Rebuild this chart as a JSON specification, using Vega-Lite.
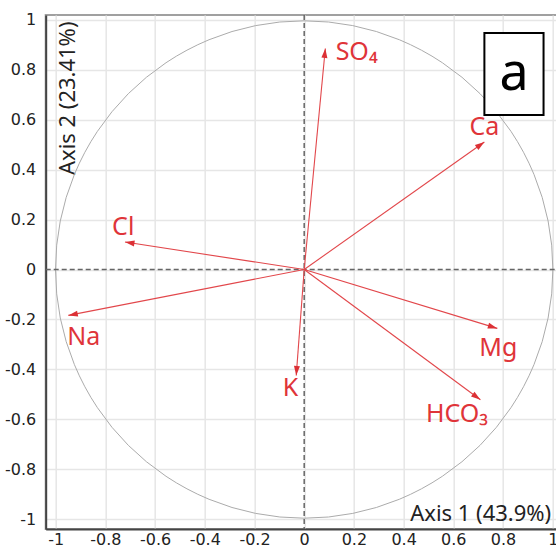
{
  "$schema": "https://vega.github.io/schema/vega-lite/v6.json",
  "width": 517,
  "height": 514,
  "autosize": {"type": "none"},
  "padding": {"left": 45.7, "top": 15, "right": 0, "bottom": 21},
  "background": "white",
  "config": {"view": {"stroke": "#a0a0a0", "strokeWidth": 2}, "font": "Noto Sans"},
  "datasets": {
    "vars": [
      {"name": "SO₄", "x": 0.085, "y": 0.886, "lx": 0.211, "ly": 0.839},
      {"name": "Ca", "x": 0.725, "y": 0.511, "lx": 0.725, "ly": 0.539},
      {"name": "Cl", "x": -0.721, "y": 0.110, "lx": -0.728, "ly": 0.137},
      {"name": "Na", "x": -0.949, "y": -0.184, "lx": -0.887, "ly": -0.301},
      {"name": "Mg", "x": 0.777, "y": -0.236, "lx": 0.781, "ly": -0.348},
      {"name": "HCO₃", "x": 0.709, "y": -0.522, "lx": 0.615, "ly": -0.612},
      {"name": "K", "x": -0.032, "y": -0.425, "lx": -0.055, "ly": -0.508}
    ],
    "origin": [{"x": 0, "y": 0}],
    "panel": [{"tag": "a", "x1": 0.725, "x2": 0.963, "y1": 0.948, "y2": 0.619, "tx": 0.844, "ty": 0.719}]
  },
  "layer": [
    {
      "data": {"name": "origin"},
      "mark": {"type": "point", "shape": "circle", "size": 247400, "filled": false, "stroke": "#ababab", "strokeWidth": 1, "opacity": 1},
      "encoding": {
        "x": {"field": "x", "type": "quantitative", "scale": {"domain": [-1.04, 1.04], "nice": false, "zero": false},
          "axis": {"title": "Axis 1 (43.9%)", "values": [-1, -0.8, -0.6, -0.4, -0.2, 0, 0.2, 0.4, 0.6, 0.8, 1],
            "grid": true, "gridColor": "#e6e6e6", "gridWidth": 1.5, "ticks": false,
            "domainColor": "#444444", "domainWidth": 2,
            "labelFont": "DejaVu Sans", "labelFontSize": 16, "labelColor": "#222222", "labelPadding": 3,
            "labelFlush": false, "labelOverlap": false,
            "labelExpr": "(datum.value < -0.001 ? '-' : '') + format(abs(datum.value), '~g')",
            "titleFont": "Noto Sans", "titleFontSize": 22, "titleFontWeight": "normal", "titleColor": "#222222",
            "titleX": 505, "titleY": -8, "titleAlign": "right", "titleBaseline": "alphabetic"}},
        "y": {"field": "y", "type": "quantitative", "scale": {"domain": [-1.04, 1.02], "nice": false, "zero": false},
          "axis": {"title": "Axis 2 (23.41%)", "values": [-1, -0.8, -0.6, -0.4, -0.2, 0, 0.2, 0.4, 0.6, 0.8, 1],
            "grid": true, "gridColor": "#e6e6e6", "gridWidth": 1.5, "ticks": false,
            "domainColor": "#444444", "domainWidth": 2,
            "labelFont": "DejaVu Sans", "labelFontSize": 16, "labelColor": "#222222", "labelPadding": 10,
            "labelFlush": false, "labelOverlap": false,
            "labelExpr": "(datum.value < -0.001 ? '-' : '') + format(abs(datum.value), '~g')",
            "titleFont": "Noto Sans", "titleFontSize": 22, "titleFontWeight": "normal", "titleColor": "#222222",
            "titleX": 29, "titleY": 6, "titleAngle": -90, "titleAlign": "right", "titleBaseline": "alphabetic"}}
      }
    },
    {
      "data": {"name": "origin"},
      "mark": {"type": "rule", "stroke": "#666666", "strokeWidth": 1.5, "strokeDash": [5, 3]},
      "encoding": {
        "x": {"field": "x", "type": "quantitative"}
      }
    },
    {
      "data": {"name": "origin"},
      "mark": {"type": "rule", "stroke": "#666666", "strokeWidth": 1.5, "strokeDash": [5, 3]},
      "encoding": {
        "y": {"field": "y", "type": "quantitative"}
      }
    },
    {
      "data": {"name": "vars"},
      "mark": {"type": "rule", "stroke": "#e2474b", "strokeWidth": 1.1},
      "encoding": {
        "x": {"field": "x", "type": "quantitative"},
        "y": {"field": "y", "type": "quantitative"},
        "x2": {"datum": 0},
        "y2": {"datum": 0}
      }
    },
    {
      "data": {"name": "vars"},
      "transform": [{"calculate": "atan2(datum.x, datum.y) * 180 / PI", "as": "ang"}],
      "mark": {"type": "point", "shape": "M0,0L0.6,1.9L-0.6,1.9Z", "size": 100, "filled": true, "fill": "#dc3035", "strokeWidth": 0, "opacity": 1},
      "encoding": {
        "x": {"field": "x", "type": "quantitative"},
        "y": {"field": "y", "type": "quantitative"},
        "angle": {"field": "ang", "type": "quantitative", "scale": null}
      }
    },
    {
      "data": {"name": "vars"},
      "mark": {"type": "text", "font": "Noto Sans", "fontSize": 25, "fill": "#df3439", "align": "center", "baseline": "alphabetic"},
      "encoding": {
        "x": {"field": "lx", "type": "quantitative"},
        "y": {"field": "ly", "type": "quantitative"},
        "text": {"field": "name"}
      }
    },
    {
      "data": {"name": "panel"},
      "mark": {"type": "rect", "fill": "white", "stroke": "black", "strokeWidth": 2},
      "encoding": {
        "x": {"field": "x1", "type": "quantitative"},
        "x2": {"field": "x2"},
        "y": {"field": "y1", "type": "quantitative"},
        "y2": {"field": "y2"}
      }
    },
    {
      "data": {"name": "panel"},
      "mark": {"type": "text", "font": "Noto Sans", "fontSize": 52, "fill": "black", "align": "center", "baseline": "alphabetic"},
      "encoding": {
        "x": {"field": "tx", "type": "quantitative"},
        "y": {"field": "ty", "type": "quantitative"},
        "text": {"field": "tag"}
      }
    }
  ]
}
